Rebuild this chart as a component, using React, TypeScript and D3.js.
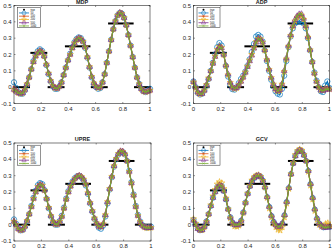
import React from 'react';
import * as d3 from 'd3';

const N = 64;
const xs = d3.range(N).map(i => i / (N - 1));
const xTicks = [0, 0.2, 0.4, 0.6, 0.8, 1];
const xTickLabels = ['0', '0.2', '0.4', '0.6', '0.8', '1'];
const yTicks = [-0.1, 0, 0.1, 0.2, 0.3, 0.4, 0.5];
const yTickLabels = ['-0.1', '0', '0.1', '0.2', '0.3', '0.4', '0.5'];
const panelTitles = ['MDP', 'ADP', 'UPRE', 'GCV'];
const legendLabels = ['true', '50', '100', '200', '500', '1000'];

const trueSignal = [
  0, 0, 0, 0, 0, 0, 0, 0,
  0.21, 0.21, 0.21, 0.21, 0.21, 0.21, 0.21, 0.21,
  0, 0, 0, 0, 0, 0, 0, 0,
  0.25, 0.25, 0.25, 0.25, 0.25, 0.25, 0.25, 0.25, 0.25, 0.25, 0.25, 0.25,
  0, 0, 0, 0, 0, 0, 0, 0,
  0.39, 0.39, 0.39, 0.39, 0.39, 0.39, 0.39, 0.39, 0.39, 0.39, 0.39, 0.39,
  0, 0, 0, 0, 0, 0, 0, 0,
];

// MDP
const mdpBlue = [0.03,-0.005,-0.03,-0.04,-0.04,-0.02,0.015,0.06,0.11,0.16,0.195,0.22,0.232,0.222,0.19,0.135,0.08,0.035,0.005,-0.01,-0.01,0.005,0.03,0.075,0.12,0.165,0.205,0.245,0.275,0.295,0.305,0.3,0.28,0.24,0.18,0.12,0.06,0.02,0.0,-0.01,-0.005,0.03,0.08,0.15,0.22,0.29,0.355,0.405,0.44,0.455,0.45,0.425,0.38,0.32,0.255,0.185,0.12,0.06,0.02,-0.01,-0.025,-0.03,-0.02,-0.01];
const mdpOrange = [0.0,-0.015,-0.03,-0.038,-0.035,-0.015,0.02,0.06,0.11,0.155,0.19,0.212,0.225,0.215,0.19,0.14,0.085,0.04,0.01,-0.005,-0.008,0.005,0.03,0.075,0.12,0.165,0.2,0.24,0.27,0.29,0.3,0.295,0.28,0.245,0.185,0.125,0.065,0.025,0.005,-0.005,0.0,0.03,0.08,0.15,0.22,0.29,0.355,0.405,0.44,0.455,0.45,0.425,0.38,0.32,0.255,0.185,0.12,0.06,0.02,-0.01,-0.025,-0.03,-0.025,-0.015];
const mdpPurple = [-0.015,-0.025,-0.035,-0.04,-0.035,-0.015,0.02,0.06,0.11,0.155,0.19,0.21,0.222,0.215,0.19,0.14,0.085,0.04,0.01,-0.005,-0.008,0.005,0.03,0.075,0.12,0.165,0.2,0.24,0.27,0.29,0.3,0.295,0.28,0.245,0.185,0.125,0.065,0.025,0.005,-0.005,0.0,0.03,0.08,0.15,0.22,0.29,0.355,0.405,0.44,0.455,0.45,0.425,0.38,0.32,0.255,0.185,0.12,0.06,0.02,-0.01,-0.025,-0.03,-0.025,-0.02];
const mdpYellow = mdpPurple;
const mdpGreen = mdpPurple;

// ADP
const adpBlue = [0.035,0.0,-0.035,-0.045,-0.04,-0.02,0.01,0.05,0.1,0.15,0.2,0.245,0.27,0.255,0.2,0.13,0.065,0.015,-0.012,-0.015,0.0,0.025,0.05,0.07,0.095,0.13,0.17,0.215,0.265,0.31,0.32,0.31,0.28,0.225,0.16,0.1,0.045,0.005,-0.025,-0.04,-0.045,-0.01,0.07,0.16,0.245,0.31,0.36,0.39,0.4,0.405,0.4,0.39,0.36,0.3,0.225,0.155,0.09,0.04,0.0,-0.025,-0.03,0.01,0.035,-0.005];
const adpOrange = [0.03,-0.005,-0.032,-0.043,-0.038,-0.018,0.015,0.055,0.1,0.148,0.19,0.23,0.25,0.242,0.198,0.13,0.075,0.028,0.0,-0.01,-0.005,0.015,0.038,0.062,0.092,0.128,0.165,0.2,0.242,0.278,0.298,0.295,0.275,0.225,0.168,0.108,0.058,0.018,-0.012,-0.025,-0.02,0.018,0.095,0.172,0.25,0.315,0.37,0.405,0.428,0.44,0.44,0.415,0.37,0.305,0.228,0.155,0.085,0.035,0.0,-0.018,-0.02,-0.01,-0.008,-0.012];
const adpPurple = [0.033,0.0,-0.03,-0.042,-0.04,-0.02,0.015,0.053,0.1,0.145,0.187,0.226,0.245,0.24,0.2,0.135,0.08,0.03,0.0,-0.008,-0.003,0.015,0.035,0.06,0.09,0.125,0.16,0.195,0.238,0.275,0.295,0.293,0.275,0.228,0.17,0.11,0.06,0.02,-0.01,-0.022,-0.015,0.02,0.1,0.177,0.255,0.32,0.375,0.412,0.435,0.447,0.448,0.42,0.375,0.31,0.23,0.155,0.085,0.035,0.0,-0.018,-0.022,-0.015,-0.012,-0.014];
const adpYellow = adpOrange;
const adpGreen = adpPurple;

// UPRE
const upreBlue = [0.032,0.005,-0.022,-0.035,-0.032,-0.012,0.022,0.065,0.115,0.165,0.208,0.242,0.255,0.248,0.212,0.158,0.1,0.05,0.015,0.0,0.0,0.022,0.055,0.105,0.16,0.205,0.24,0.265,0.285,0.296,0.298,0.29,0.272,0.24,0.188,0.13,0.08,0.035,0.005,-0.018,-0.025,-0.005,0.05,0.13,0.215,0.29,0.355,0.4,0.43,0.445,0.445,0.43,0.39,0.33,0.26,0.185,0.115,0.06,0.02,-0.002,-0.012,-0.018,-0.015,-0.012];
const uprePurple = [0.02,0.0,-0.025,-0.035,-0.03,-0.01,0.025,0.065,0.11,0.16,0.2,0.233,0.245,0.24,0.21,0.16,0.105,0.055,0.02,0.003,0.002,0.02,0.05,0.1,0.155,0.2,0.235,0.262,0.283,0.295,0.3,0.294,0.278,0.248,0.195,0.135,0.085,0.04,0.01,-0.01,-0.014,0.005,0.06,0.14,0.22,0.295,0.36,0.405,0.435,0.45,0.448,0.432,0.39,0.325,0.255,0.18,0.11,0.055,0.018,-0.004,-0.015,-0.02,-0.019,-0.018];
const upreOrange = uprePurple;
const upreYellow = uprePurple;
const upreGreen = uprePurple;

// GCV
const gcvBlue = [0.03,0.003,-0.023,-0.034,-0.032,-0.012,0.02,0.065,0.115,0.165,0.202,0.232,0.245,0.238,0.207,0.155,0.095,0.045,0.013,-0.002,-0.004,0.0,0.024,0.075,0.135,0.19,0.236,0.267,0.287,0.298,0.301,0.293,0.27,0.228,0.168,0.108,0.053,0.017,-0.003,-0.017,-0.016,0.006,0.057,0.138,0.224,0.31,0.376,0.422,0.448,0.458,0.451,0.427,0.39,0.329,0.248,0.163,0.092,0.037,0.007,-0.007,-0.016,-0.014,-0.01,-0.012];
const gcvYellow = [0.035,0.008,-0.02,-0.033,-0.033,-0.015,0.018,0.065,0.12,0.175,0.215,0.248,0.262,0.255,0.22,0.162,0.095,0.04,0.005,-0.01,-0.012,-0.005,0.02,0.072,0.135,0.192,0.24,0.272,0.292,0.302,0.304,0.295,0.27,0.228,0.165,0.1,0.045,0.008,-0.015,-0.03,-0.035,-0.015,0.045,0.13,0.22,0.31,0.38,0.428,0.452,0.462,0.455,0.43,0.39,0.325,0.24,0.155,0.085,0.03,0.0,-0.012,-0.012,0.005,0.01,-0.005];
const gcvPurple = [0.025,0.0,-0.025,-0.035,-0.032,-0.012,0.02,0.065,0.115,0.165,0.2,0.228,0.24,0.235,0.205,0.155,0.095,0.045,0.015,0.0,-0.002,0.002,0.025,0.075,0.135,0.19,0.235,0.265,0.285,0.297,0.3,0.293,0.27,0.23,0.17,0.11,0.055,0.02,0.0,-0.012,-0.01,0.01,0.06,0.14,0.225,0.31,0.375,0.42,0.445,0.455,0.448,0.425,0.39,0.33,0.25,0.165,0.095,0.04,0.01,-0.005,-0.016,-0.018,-0.016,-0.014];
const gcvOrange = gcvPurple;
const gcvGreen = gcvPurple;

const panelSeries = [
  [mdpBlue, mdpOrange, mdpYellow, mdpPurple, mdpGreen],
  [adpBlue, adpOrange, adpYellow, adpPurple, adpGreen],
  [upreBlue, upreOrange, upreYellow, uprePurple, upreGreen],
  [gcvBlue, gcvOrange, gcvYellow, gcvPurple, gcvGreen],
];

const colors = ['#0072BD', '#D95319', '#EDB120', '#7E2F8E', '#77AC30'];
const markerKinds = ['o', '*', 'p', '^', 'x'];

const boxes = [
  { left: 14, right: 150, top: 5.5, bottom: 103.5 },
  { left: 193.5, right: 329.5, top: 5.5, bottom: 103.5 },
  { left: 14, right: 151, top: 143, bottom: 241 },
  { left: 193.5, right: 330, top: 143, bottom: 241 },
];

const FONT = 'Liberation Sans, Arial, Helvetica, sans-serif';
const AX = '#262626';

function markerPath(kind: string, scale = 1): string {
  const s = scale;
  if (kind === 'o') return d3.symbol(d3.symbolCircle, 22 * s * s)() as string;
  if (kind === '^') return d3.symbol(d3.symbolTriangle, 14 * s * s)() as string;
  if (kind === 'p') return d3.symbol(d3.symbolStar, 12 * s * s)() as string;
  if (kind === '*') {
    const r = 1.9 * s, a = 1.35 * s;
    return `M${-r},0H${r}M0,${-r}V${r}M${-a},${-a}L${a},${a}M${-a},${a}L${a},${-a}`;
  }
  const a = 1.4 * s;
  return `M${-a},${-a}L${a},${a}M${-a},${a}L${a},${-a}`;
}

// group the true signal into runs of equal value (drawn as dense dot markers)
function trueRuns(vals: number[]) {
  const runs: { s: number; e: number; v: number }[] = [];
  let s = 0;
  for (let i = 1; i <= vals.length; i++) {
    if (i === vals.length || vals[i] !== vals[s]) {
      runs.push({ s, e: i - 1, v: vals[s] });
      s = i;
    }
  }
  return runs;
}

function Panel({ idx }: { idx: number }) {
  const b = boxes[idx];
  const x = d3.scaleLinear().domain([0, 1]).range([b.left, b.right]);
  const y = d3.scaleLinear().domain([-0.1, 0.5]).range([b.bottom, b.top]);
  const line = d3.line<number>().x((_, i) => x(xs[i])).y(d => y(d));
  const series = panelSeries[idx];
  const tl = 1.5;
  const lgL = b.left + 3.5, lgT = b.top + 2.2, lgW = 23, lgH = 20;
  const runs = trueRuns(trueSignal);
  return (
    <g>
      <rect x={b.left} y={b.top} width={b.right - b.left} height={b.bottom - b.top} fill="#fff" />
      {runs.map((r, i) => (
        <line key={'t' + i} x1={x(xs[r.s]) - 0.9} x2={x(xs[r.e]) + 0.9} y1={y(r.v)} y2={y(r.v)}
          stroke="#000" strokeWidth={2} />
      ))}
      {series.map((vals, si) => (
        <g key={'s' + si}>
          <path d={line(vals) as string} fill="none" stroke={colors[si]} strokeWidth={1.1} />
          {vals.map((v, i) => (
            <path key={i} d={markerPath(markerKinds[si])} transform={`translate(${x(xs[i])},${y(v)})`}
              fill="none" stroke={colors[si]} strokeWidth={0.7} />
          ))}
        </g>
      ))}
      <rect x={b.left} y={b.top} width={b.right - b.left} height={b.bottom - b.top} fill="none" stroke={AX} strokeWidth={0.6} />
      {xTicks.map((t, i) => (
        <g key={'xt' + i}>
          <line x1={x(t)} x2={x(t)} y1={b.bottom} y2={b.bottom - tl} stroke={AX} strokeWidth={0.5} />
          <line x1={x(t)} x2={x(t)} y1={b.top} y2={b.top + tl} stroke={AX} strokeWidth={0.5} />
          <text x={x(t)} y={b.bottom + 7.3} fontSize={6} fontFamily={FONT} fill={AX} textAnchor="middle">{xTickLabels[i]}</text>
        </g>
      ))}
      {yTicks.map((t, i) => (
        <g key={'yt' + i}>
          <line x1={b.left} x2={b.left + tl} y1={y(t)} y2={y(t)} stroke={AX} strokeWidth={0.5} />
          <line x1={b.right} x2={b.right - tl} y1={y(t)} y2={y(t)} stroke={AX} strokeWidth={0.5} />
          <text x={b.left - 2.5} y={y(t) + 2.1} fontSize={6} fontFamily={FONT} fill={AX} textAnchor="end">{yTickLabels[i]}</text>
        </g>
      ))}
      <text x={(b.left + b.right) / 2} y={b.top - 2} fontSize={5.5} fontWeight="bold" fontFamily={FONT} fill="#222" textAnchor="middle">{panelTitles[idx]}</text>
      <rect x={lgL} y={lgT} width={lgW} height={lgH} fill="#fff" stroke={AX} strokeWidth={0.5} />
      {legendLabels.map((lab, i) => {
        const ly = lgT + 2 + i * 3.25;
        return (
          <g key={'lg' + i}>
            {i === 0 ? (
              <circle cx={lgL + 6.5} cy={ly} r={1} fill="#000" />
            ) : (
              <g>
                <line x1={lgL + 1.5} x2={lgL + 11.5} y1={ly} y2={ly} stroke={colors[i - 1]} strokeWidth={0.8} />
                <path d={markerPath(markerKinds[i - 1], 0.75)} transform={`translate(${lgL + 6.5},${ly})`} fill="none" stroke={colors[i - 1]} strokeWidth={0.5} />
              </g>
            )}
            <text x={lgL + 13} y={ly + 0.9} fontSize={2.6} fontFamily={FONT} fill="#000">{lab}</text>
          </g>
        );
      })}
    </g>
  );
}

export default function App() {
  return (
    <svg width={332} height={249} style={{ position: 'absolute', left: 0, top: 0, background: '#fff' }}>
      <rect x={0} y={0} width={332} height={249} fill="#fff" />
      {[0, 1, 2, 3].map(i => <Panel key={i} idx={i} />)}
    </svg>
  );
}
